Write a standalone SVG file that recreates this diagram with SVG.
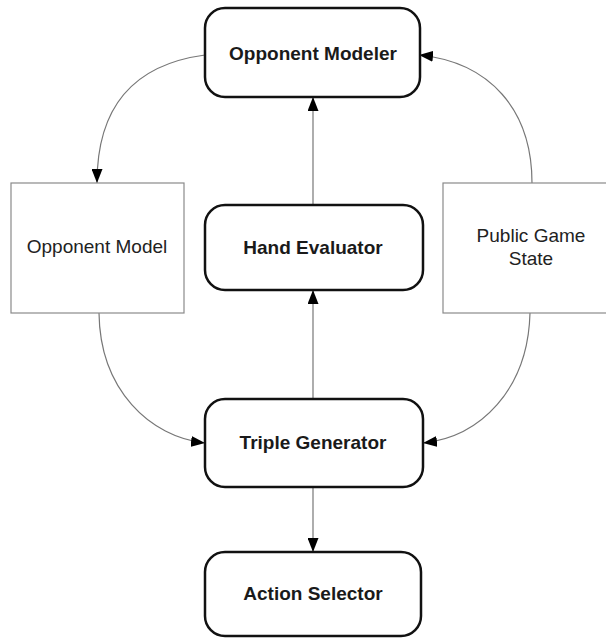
<svg xmlns="http://www.w3.org/2000/svg" width="606" height="639" viewBox="0 0 606 639">
<defs>
<marker id="ah" markerWidth="14" markerHeight="11" refX="14" refY="5.5" orient="auto" markerUnits="userSpaceOnUse">
<path d="M0,0 L14,5.5 L0,11 Z" fill="#000"/>
</marker>
<style>
.proc{fill:#fff;stroke:#111;stroke-width:2.5}
.data{fill:#fff;stroke:#8a8a8a;stroke-width:1.2}
.b{font-family:"Liberation Sans",Arial,sans-serif;font-weight:bold;font-size:19px;fill:#1a1a1a;text-anchor:middle}
.r{font-family:"Liberation Sans",Arial,sans-serif;font-size:19px;fill:#222;text-anchor:middle}
.c{fill:none;stroke:#777;stroke-width:1.2}
</style>
</defs>
<rect width="606" height="639" fill="#fff"/>
<g id="connectors">
<path class="c" d="M313,205 L313,97" marker-end="url(#ah)"/>
<path class="c" d="M313,399 L313,290" marker-end="url(#ah)"/>
<path class="c" d="M313,487 L313,552" marker-end="url(#ah)"/>
<path class="c" d="M205,55 C130,65 97,110 97,183" marker-end="url(#ah)"/>
<path class="c" d="M99,313 C100,390 150,437 205,443" marker-end="url(#ah)"/>
<path class="c" d="M532,183 C532,110 490,62 419,55" marker-end="url(#ah)"/>
<path class="c" d="M530,313 C528,390 480,437 423,443" marker-end="url(#ah)"/>
</g>
<g id="opponent-modeler">
<rect class="proc" x="205" y="8" width="215" height="89" rx="20"/>
<text class="b" x="313" y="60">Opponent Modeler</text>
</g>
<g id="hand-evaluator">
<rect class="proc" x="205" y="205" width="218" height="85" rx="20"/>
<text class="b" x="313" y="254">Hand Evaluator</text>
</g>
<g id="triple-generator">
<rect class="proc" x="205" y="399" width="218" height="88" rx="20"/>
<text class="b" x="313" y="449">Triple Generator</text>
</g>
<g id="action-selector">
<rect class="proc" x="205" y="552" width="216" height="84" rx="20"/>
<text class="b" x="313" y="600">Action Selector</text>
</g>
<g id="opponent-model">
<rect class="data" x="11" y="183" width="173" height="130"/>
<text class="r" x="97" y="253">Opponent Model</text>
</g>
<g id="public-game-state">
<rect class="data" x="443" y="183" width="180" height="130"/>
<text class="r" x="531" y="242">Public Game</text>
<text class="r" x="531" y="265">State</text>
</g>
</svg>
